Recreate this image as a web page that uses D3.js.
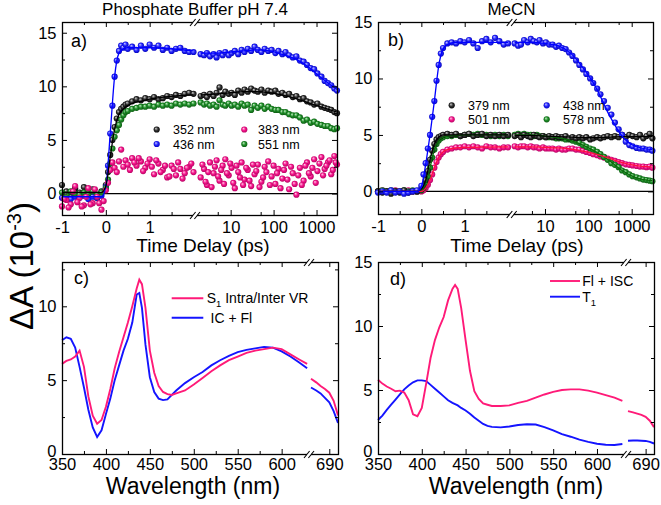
<!DOCTYPE html>
<html><head><meta charset="utf-8">
<script src="https://cdn.jsdelivr.net/npm/d3@7"></script>
<style>body{margin:0;background:#fff}</style>
</head><body><svg id="c" width="661" height="505"></svg>
<script>
// ---------------- DATA ----------------
const tL = [-1,-0.9,-0.8,-0.7,-0.6,-0.5,-0.4,-0.3,-0.2,-0.1, 0,0.05,0.1,0.15,0.2,0.25,0.3,0.35,0.4,0.45, 0.5,0.6,0.7,0.8,0.9,1.0,1.1,1.2,1.3,1.4, 1.5,1.6,1.7,1.8,1.9,2.0];
const tR = [2,2.4,2.8,3.3,4,4.7,5.5,6.5,7.5,9, 10.5,12.5,15,18,21,25,30,36,43,52, 62,75,90,110,130,160,190,230,280,340, 410,500,600,730,880,1050,1300,1550,1850,2200, 2600,3000];
const tL2 = [-0.95,-0.85,-0.75,-0.65,-0.55,-0.45,-0.35,-0.25,-0.15,-0.05, 0.55,0.65,0.75,0.85,0.95,1.05,1.15,1.25,1.35,1.45, 1.55,1.65,1.75,1.85,1.95];
const tR2 = [2.2,2.6,3.0,3.6,4.3,5.1,6.0,7.0,8.2,9.8, 11.5,13.7,16.5,19.5,23,27.5,33,39.5,47,57, 68,82,100,120,145,175,210,255,310,375, 455,550,665,800,960,1170,1420,1700,2020,2400, 2800];
const fitTL = [-1,-0.1,0,0.1,0.2,0.3,0.4,0.5,0.6,0.8,1.0,2.0];
const fitTR = [2,5,10,20,40,80,150,300,600,1200,3000];

// panel a) Phosphate buffer
const a352L = [0.8,0.2,-0.3,0.5,0.1,0.6,-0.2,0.4,-0.4,0.2, 0.8,2.0,3.6,5.0,6.2,7.0,7.6,7.9,8.1,8.3, 8.4,8.6,8.8,8.7,8.9,8.8,9.0,8.8,8.9,9.1, 9.0,9.2,9.1,9.3,9.4,9.3];
const a383L = [-1.2,-0.6,-1.0,0.7,-0.4,-1.1,0.5,-0.9,-0.3,-1.5, 0.3,1.0,2.2,2.9,2.4,2.0,3.0,4.1,2.5,3.1, 2.7,3.3,2.6,3.0,2.4,3.2,1.8,2.8,2.2,1.5, 2.6,1.7,2.3,1.9,2.5,2.0];
const a436L = [-0.4,-0.2,-0.5,-0.3,-0.4,-0.2,-0.5,-0.3,-0.4,-0.2, 0.6,2.6,5.6,8.2,10.9,12.4,13.3,13.8,13.6,13.9, 13.5,13.7,13.4,13.8,13.5,13.9,13.6,13.8,13.4,13.6, 13.3,13.5,13.6,13.3,13.2,13.2];
const a551L = [0.1,-0.1,0.2,0.0,-0.1,0.1,0.0,0.2,-0.1,0.1, 0.5,1.3,2.8,4.2,5.3,5.9,6.4,6.9,7.3,7.6, 7.7,7.9,8.0,8.1,8.1,8.2,8.1,8.3,8.2,8.3, 8.2,8.4,8.3,8.4,8.3,8.4];
const a352R = [9.1,9.2,9.0,9.3,9.1,9.4,9.9,9.2,9.5,9.3, 9.4,9.2,9.6,9.4,9.7,9.5,9.8,9.6,9.5,9.7, 9.4,9.6,9.5,9.6,9.3,9.4,9.2,9.3,9.0,9.1, 8.8,8.9,8.6,8.5,8.3,8.4,8.1,8.0,7.9,7.8, 7.6,7.5];
const a383R = [1.5,2.3,0.8,2.9,1.9,3.1,1.2,2.6,3.2,1.7, 2.4,0.5,2.0,2.9,1.3,2.2,0.7,1.8,2.7,1.1, 2.5,3.0,1.6,0.9,2.3,1.4,2.8,0.4,1.9,-0.1, 2.4,1.2,2.9,1.6,3.2,2.1,3.4,2.3,2.9,1.8, 3.5,2.7];
const a436R = [13.0,12.9,13.1,12.8,13.0,12.7,13.1,12.9,13.2,12.9, 13.1,13.3,13.0,13.4,13.2,13.5,13.3,13.7,13.4,13.2, 13.5,13.3,13.4,13.1,13.3,13.0,13.2,12.9,12.7,12.8, 12.4,12.3,12.0,11.7,11.6,11.2,10.9,10.5,10.3,10.1, 9.8,9.6];
const a551R = [8.5,8.3,8.4,8.2,8.3,8.1,8.7,8.3,8.2,8.4, 8.2,8.3,8.1,8.4,8.2,8.3,7.8,8.2,8.0,8.2, 7.9,8.1,7.9,7.8,7.8,7.6,7.6,7.4,7.3,7.3, 7.1,6.8,6.9,6.6,6.7,6.5,6.4,6.3,6.3,6.1, 6.0,6.1];
const a383L2 = [-0.5,-1.3,0.2,-0.8,-1.2,-0.3,-1.0,0.4,-0.9,-0.7, 2.2,2.9,3.3,2.1,2.8,2.5,3.1,2.0,2.6,1.6, 2.3,2.9,1.4,2.4,2.8];
const a383R2 = [2.7,1.1,2.0,0.6,2.5,1.6,2.2,0.9,1.9,2.8, 1.0,2.6,1.5,0.8,2.4,1.2,2.7,2.1,0.6,1.5, 2.0,0.8,2.6,1.9,0.5,2.2,1.3,2.5,0.9,1.7, 0.8,2.6,1.9,2.4,1.0,2.8,1.7,2.6,3.1,2.2, 2.9];
const aFit436L = [-0.3,-0.3,0.6,5.6,10.9,13.1,13.5,13.6,13.6,13.6,13.6,13.3];
const aFit436R = [13.1,13.1,13.2,13.3,13.4,13.3,13.0,12.6,11.9,10.9,9.7];
const aFit352L = [0.1,0.1,0.7,3.4,6.0,7.4,7.9,8.2,8.4,8.6,8.8,9.2];
const aFit352R = [9.2,9.3,9.4,9.5,9.5,9.4,9.2,8.9,8.5,8.1,7.6];

// panel b) MeCN
const b379L = [0.0,-0.1,0.0,-0.2,0.0,-0.1,0.1,-0.1,0.0,0.0, 0.2,0.5,1.0,1.8,2.8,3.6,4.2,4.6,4.8,4.9, 5.0,5.1,5.0,5.1,4.9,5.0,5.1,4.9,5.0,5.1, 4.9,5.0,4.9,5.0,4.9,5.0];
const b438L = [-0.1,0.0,-0.1,0.1,-0.1,0.0,-0.2,-0.1,0.0,0.1, 0.5,1.5,2.5,3.8,5.0,6.6,8.0,9.8,11.2,12.2, 12.7,13.1,13.2,13.1,13.3,13.2,13.4,13.1,12.7,13.3, 13.5,13.2,13.6,13.3,13.0,13.1];
const b501L = [0.0,0.1,0.0,0.0,0.1,0.0,0.0,0.1,0.0,0.0, 0.0,0.1,0.3,0.6,1.0,1.5,2.1,2.6,3.0,3.3, 3.5,3.7,3.8,3.9,3.9,4.0,3.9,4.0,3.9,3.8, 4.0,3.9,3.9,3.8,3.9,3.9];
const b578L = [0.0,0.1,0.0,0.1,0.0,0.0,0.1,0.0,0.1,0.0, 0.1,0.3,0.7,1.3,2.1,3.0,3.7,4.2,4.5,4.7, 4.8,4.9,4.9,5.0,4.9,5.0,5.1,5.0,5.1,5.0, 5.0,4.9,5.0,4.9,5.0,4.9];
const b379R = [4.9,5.0,4.8,5.0,4.9,4.8,5.0,4.9,4.8,4.9, 4.8,4.9,4.8,4.9,4.8,4.8,4.9,4.7,4.8,4.7, 4.8,4.7,4.8,4.6,4.7,4.8,4.7,4.8,4.9,4.8, 4.9,4.8,5.0,4.8,5.0,4.9,4.8,5.0,4.7,4.9, 5.1,4.7];
const b438R = [13.1,12.9,13.0,13.4,13.2,13.5,13.3,13.2,13.4,13.1, 13.2,13.0,13.0,12.8,12.9,12.7,12.6,12.3,12.0,11.6, 11.2,10.8,10.4,10.0,9.6,9.1,8.6,8.0,7.4,6.8, 6.1,5.5,5.0,4.4,4.1,4.0,3.85,3.8,3.8,3.7, 3.7,3.6];
const b501R = [4.0,3.9,4.0,4.0,3.9,4.0,3.9,3.9,3.8,3.9, 3.8,3.8,3.8,3.7,3.8,3.7,3.7,3.8,3.8,3.7, 3.7,3.6,3.5,3.4,3.3,3.2,3.1,3.0,2.9,2.8, 2.7,2.6,2.5,2.4,2.35,2.3,2.25,2.2,2.2,2.15, 2.2,2.1];
const b578R = [5.0,5.1,5.0,5.1,5.0,5.0,4.9,5.0,4.9,4.9, 4.8,4.8,4.8,4.7,4.7,4.7,4.6,4.6,4.5,4.4, 4.3,4.1,3.95,3.8,3.7,3.5,3.3,3.05,2.8,2.5, 2.35,2.15,1.85,1.7,1.5,1.35,1.25,1.15,1.05,1.0, 0.95,0.9];
const bFit438L = [0,0,0.4,2.4,5.0,8.0,11.1,12.6,13.0,13.2,13.2,13.2];
const bFit438R = [13.2,13.2,13.1,12.9,12.2,10.8,9.2,6.8,4.9,4.0,3.7];
const bFit379L = [0,0,0.2,1.0,2.8,4.2,4.8,5.0,5.0,5.0,5.0,5.0];
const bFit379R = [4.95,4.95,4.9,4.85,4.8,4.75,4.75,4.8,4.85,4.85,4.85];
const bFit501L = [0,0,0,0.3,1.0,2.1,3.0,3.5,3.7,3.85,3.9,3.95];
const bFit501R = [3.95,3.95,3.9,3.85,3.75,3.55,3.3,2.95,2.55,2.3,2.15];
const bFit578L = [0,0,0.1,0.7,2.1,3.7,4.5,4.8,4.9,4.95,5.0,5.0];
const bFit578R = [5.0,5.0,4.9,4.75,4.5,4.05,3.5,2.75,1.85,1.25,0.95];

// spectra (c, d)
const wl = [350,355,360,365,370,375,380,385,390,395, 400,405,410,415,420,425,430,435,438,441, 445,450,455,460,465,470,475,480,490,500, 510,520,530,540,550,560,570,580,590,600, 610,620,629];
const wlR = [669,675,680,685,690,695,700];
const cS1VR = [6.1,6.3,6.4,6.6,7.0,5.9,3.9,2.6,2.05,2.3, 3.2,4.4,5.8,6.9,7.9,8.9,10.0,11.2,11.8,11.5, 9.9,7.0,5.5,4.6,4.2,4.05,4.0,4.1,4.3,4.7, 5.15,5.6,6.0,6.35,6.6,6.85,7.0,7.1,7.2,7.1, 6.75,6.4,6.1];
const cICFl = [7.7,7.9,7.8,7.2,5.9,4.5,3.0,1.8,1.15,1.6, 2.7,3.75,5.0,6.0,7.0,7.8,8.9,10.8,10.9,9.9, 7.4,5.2,4.2,3.75,3.65,3.7,4.0,4.3,4.8,5.2, 5.55,6.0,6.35,6.65,6.9,7.05,7.15,7.25,7.2,6.95, 6.6,6.2,5.8];
const cS1VR_R = [5.1,4.85,4.6,4.4,4.15,3.6,2.6];
const cICFl_R = [4.5,4.3,4.1,3.8,3.5,2.9,2.1];
const dFlISC = [5.8,5.5,5.27,5.1,4.9,4.95,4.8,4.2,3.1,2.95, 3.6,5.5,7.5,8.9,9.9,10.7,12.0,12.9,13.2,12.9, 11.4,8.9,6.5,4.9,4.3,3.95,3.85,3.75,3.75,3.8, 4.0,4.15,4.4,4.65,4.85,5.0,5.05,5.05,4.95,4.8, 4.6,4.4,4.15];
const dT1 = [2.66,3.0,3.44,3.85,4.25,4.65,5.05,5.35,5.6,5.75, 5.75,5.7,5.4,5.1,4.8,4.5,4.2,4.0,3.9,3.8, 3.6,3.4,3.15,2.85,2.6,2.35,2.2,2.12,2.08,2.15, 2.27,2.32,2.3,2.1,1.85,1.55,1.35,1.12,0.95,0.8, 0.72,0.7,0.78];
const dFlISC_R = [3.35,3.25,3.15,3.05,2.9,2.6,2.1];
const dT1_R = [1.04,1.05,1.05,1.04,1.02,0.95,0.82];

// tick values
const tMajL = [-1,0,1], tMinL = [-0.5,0.5,1.5];
const tMajR = [10,100,1000], tMinR = [5,50,500];
const wMaj = [350,400,450,500,550,600], wMin = [375,425,475,525,575];
const wMajR = [690];

// ---------------- DRAW ----------------
const FONT = '"Liberation Sans", Arial, Helvetica, sans-serif';
const svg = d3.select("#c").style("font-family", FONT);
const defs = svg.append("defs");
const ballCols = {
  black: ["#d0d0d0", "#333333", "#000000"],
  blue: ["#c8c8ff", "#2626ff", "#0000b4"],
  pink: ["#ffd0e8", "#f4158b", "#b0005e"],
  green: ["#c8ecc8", "#20902a", "#0a560f"]
};
Object.entries(ballCols).forEach(([k, c]) => {
  const g = defs.append("radialGradient").attr("id", "g-" + k)
    .attr("cx", "50%").attr("cy", "50%").attr("r", "55%").attr("fx", "35%").attr("fy", "32%");
  g.append("stop").attr("offset", "0%").attr("stop-color", c[0]);
  g.append("stop").attr("offset", "50%").attr("stop-color", c[1]);
  g.append("stop").attr("offset", "100%").attr("stop-color", c[2]);
});
const fmt = d => d < 0 ? "-" + Math.abs(d) : String(d);

function addAxis(orient, scale, pos, values, size, withLabels, pad, fs) {
  const gen = {bottom: d3.axisBottom, top: d3.axisTop, left: d3.axisLeft, right: d3.axisRight}[orient](scale)
    .tickValues(values).tickSizeInner(-size).tickSizeOuter(0).tickPadding(pad || 4)
    .tickFormat(withLabels ? fmt : () => "");
  const tr = (orient === "bottom" || orient === "top") ? `translate(0,${pos})` : `translate(${pos},0)`;
  const g = svg.append("g").attr("transform", tr).call(gen);
  g.select(".domain").remove();
  g.selectAll("line").attr("stroke", "#000").attr("stroke-width", 1);
  g.selectAll("text").attr("fill", "#000").style("font-size", (fs || 16.5) + "px").style("font-family", FONT);
  return g;
}
function frame(p) {
  svg.append("rect").attr("x", p.L + 0.5).attr("y", p.T + 0.5).attr("width", p.R - p.L).attr("height", p.B - p.T)
    .attr("fill", "none").attr("stroke", "#000").attr("stroke-width", 1.3);
}
function breakMark(x, yy) {
  svg.append("rect").attr("x", x - 2).attr("y", yy - 2).attr("width", 4).attr("height", 4).attr("fill", "#fff");
  [-2.2, 2.2].forEach(o => svg.append("line").attr("x1", x + o - 2.8).attr("y1", yy + 3.5)
    .attr("x2", x + o + 2.8).attr("y2", yy - 3.5).attr("stroke", "#000").attr("stroke-width", 1.1));
}
function yAxes(p, y, maj, min, zeroShift) {
  const g = addAxis("left", y, p.L, maj, 5, true, 5.5);
  if (zeroShift) g.selectAll(".tick").filter(d => d === 0).select("text").attr("y", -zeroShift);
  addAxis("left", y, p.L, min, 3, false);
  addAxis("right", y, p.R, maj, 5, false);
  addAxis("right", y, p.R, min, 3, false);
}

function timePanel(p) {
  const xl = d3.scaleLinear().domain(p.xlDom).range([p.L, p.brk - 1.5]);
  const xr = d3.scaleLog().domain(p.xrDom).range([p.brk + 1.5, p.R]);
  const y = d3.scaleLinear().domain(p.yDom).range([p.B, p.T]);
  svg.append("line").attr("x1", p.L).attr("x2", p.R).attr("y1", y(0)).attr("y2", y(0))
    .attr("stroke", "#000").attr("stroke-width", 1.3);
  const g = svg.append("g");
  p.series.forEach(s => {
    let pts = tL.map((t, i) => [xl(t), y(s.left[i])]).concat(tR.map((t, i) => [xr(t), y(s.right[i])]));
    if (s.left2) pts = pts.concat(tL2.map((t, i) => [xl(t), y(s.left2[i])]));
    if (s.right2) pts = pts.concat(tR2.map((t, i) => [xr(t), y(s.right2[i])]));
    g.append("g").selectAll("circle").data(pts).join("circle")
      .attr("cx", d => d[0]).attr("cy", d => d[1]).attr("r", 3.1).attr("fill", `url(#g-${s.c})`);
  });
  p.fits.forEach(f => {
    const lineL = d3.line().x(d => xl(d[0])).y(d => y(d[1])).curve(d3.curveMonotoneX);
    const lineR = d3.line().x(d => xr(d[0])).y(d => y(d[1])).curve(d3.curveMonotoneX);
    g.append("path").attr("d", lineL(fitTL.map((t, i) => [t, f.left[i]]))).attr("fill", "none").attr("stroke", f.col).attr("stroke-width", 1.3);
    g.append("path").attr("d", lineR(fitTR.map((t, i) => [t, f.right[i]]))).attr("fill", "none").attr("stroke", f.col).attr("stroke-width", 1.3);
  });
  frame(p);
  [[xl, tMajL, tMinL], [xr, tMajR, tMinR]].forEach(([sc, ma, mi]) => {
    addAxis("bottom", sc, p.B, ma, 5, true, 6);
    addAxis("bottom", sc, p.B, mi, 3, false);
    addAxis("top", sc, p.T, ma, 5, false);
    addAxis("top", sc, p.T, mi, 3, false);
  });
  yAxes(p, y, p.yMaj, p.yMin, 0);
  breakMark(p.brk, p.T + 0.5); breakMark(p.brk, p.B + 0.5);
  p.legend.forEach(it => {
    svg.append("circle").attr("cx", it.x).attr("cy", it.y).attr("r", 3.1).attr("fill", `url(#g-${it.c})`);
    svg.append("text").attr("x", it.tx).attr("y", it.y + 4.5).style("font-size", "12.5px").attr("fill", "#000").text(it.label);
  });
  svg.append("text").attr("x", p.lab[0]).attr("y", p.lab[1]).style("font-size", "18px").text(p.lab[2]);
  svg.append("text").attr("x", p.title[0]).attr("y", 15).attr("text-anchor", "middle").style("font-size", "17px").text(p.title[1]);
  svg.append("text").attr("x", p.xt).attr("y", 252).attr("text-anchor", "middle").style("font-size", "19px").text("Time Delay (ps)");
}

function specPanel(p) {
  const xl = d3.scaleLinear().domain(p.xlDom).range([p.L, p.brk - 1]);
  const xr = d3.scaleLinear().domain([669, 700]).range([p.brk + 2, p.R]);
  const y = d3.scaleLinear().domain(p.yDom).range([p.B, p.T]);
  p.series.forEach(s => {
    const lineL = d3.line().x(d => xl(d[0])).y(d => y(d[1]));
    const lineR = d3.line().x(d => xr(d[0])).y(d => y(d[1]));
    svg.append("path").attr("d", lineL(wl.map((w, i) => [w, s.left[i]]))).attr("fill", "none").attr("stroke", s.col).attr("stroke-width", 1.9);
    svg.append("path").attr("d", lineR(wlR.map((w, i) => [w, s.right[i]]))).attr("fill", "none").attr("stroke", s.col).attr("stroke-width", 1.9);
  });
  frame(p);
  [[xl, wMaj, wMin], [xr, wMajR, []]].forEach(([sc, ma, mi]) => {
    addAxis("bottom", sc, p.B, ma, 5, true, 4.5);
    addAxis("bottom", sc, p.B, mi, 3, false);
    addAxis("top", sc, p.T, ma, 5, false);
    addAxis("top", sc, p.T, mi, 3, false);
  });
  yAxes(p, y, p.yMaj, p.yMin, 3);
  breakMark(p.brk, p.T + 0.5); breakMark(p.brk, p.B + 0.5);
  p.legend.forEach(it => {
    svg.append("line").attr("x1", it.x1).attr("x2", it.x2).attr("y1", it.y).attr("y2", it.y).attr("stroke", it.col).attr("stroke-width", 1.9);
    const t = svg.append("text").attr("x", it.tx).attr("y", it.y + 5).style("font-size", "14px").attr("fill", "#000");
    t.append("tspan").text(it.label[0]);
    if (it.label[1]) {
      t.append("tspan").attr("dy", 4).style("font-size", "9.5px").text(it.label[1]);
      t.append("tspan").attr("dy", -4).text(it.label[2] || "");
    }
  });
  svg.append("text").attr("x", p.lab[0]).attr("y", p.lab[1]).style("font-size", "18px").text(p.lab[2]);
  svg.append("text").attr("x", p.xt).attr("y", 494).attr("text-anchor", "middle").style("font-size", "23px").text("Wavelength (nm)");
}

timePanel({
  L: 62, R: 337, T: 22, B: 215, brk: 195, xlDom: [-1, 2], xrDom: [1.6, 3000], yDom: [-2, 16],
  yMaj: [0, 5, 10, 15], yMin: [2.5, 7.5, 12.5],
  series: [{c: "black", left: a352L, right: a352R}, {c: "blue", left: a436L, right: a436R},
           {c: "green", left: a551L, right: a551R}, {c: "pink", left: a383L, right: a383R, left2: a383L2, right2: a383R2}],
  fits: [{col: "#0000ff", left: aFit436L, right: aFit436R}, {col: "#000", left: aFit352L, right: aFit352R}],
  legend: [{x: 156.7, y: 129.5, tx: 173, c: "black", label: "352 nm"}, {x: 244.3, y: 129.5, tx: 258, c: "pink", label: "383 nm"},
           {x: 156.7, y: 144, tx: 173, c: "blue", label: "436 nm"}, {x: 244.3, y: 144, tx: 258, c: "green", label: "551 nm"}],
  lab: [71, 47, "a)"], title: [195, "Phosphate Buffer pH 7.4"], xt: 203
});
timePanel({
  L: 378, R: 653, T: 22, B: 214, brk: 511.7, xlDom: [-1, 2.05], xrDom: [1.85, 3100], yDom: [-2, 15],
  yMaj: [0, 5, 10, 15], yMin: [2.5, 7.5, 12.5],
  series: [{c: "pink", left: b501L, right: b501R}, {c: "green", left: b578L, right: b578R},
           {c: "black", left: b379L, right: b379R}, {c: "blue", left: b438L, right: b438R}],
  fits: [{col: "#0a6a0a", left: bFit578L, right: bFit578R}, {col: "#ff1040", left: bFit501L, right: bFit501R},
         {col: "#000", left: bFit379L, right: bFit379R}, {col: "#0000ff", left: bFit438L, right: bFit438R}],
  legend: [{x: 451.7, y: 105.3, tx: 468, c: "black", label: "379 nm"}, {x: 546.7, y: 105.3, tx: 563, c: "blue", label: "438 nm"},
           {x: 451.7, y: 119.3, tx: 468, c: "pink", label: "501 nm"}, {x: 546.7, y: 119.3, tx: 563, c: "green", label: "578 nm"}],
  lab: [388, 46, "b)"], title: [511.5, "MeCN"], xt: 517
});
specPanel({
  L: 62, R: 338, T: 262, B: 454, brk: 309, xlDom: [350, 630], yDom: [0, 13],
  yMaj: [0, 5, 10], yMin: [2.5, 7.5, 12.5],
  series: [{col: "#1414ff", left: cICFl, right: cICFl_R}, {col: "#ff1a78", left: cS1VR, right: cS1VR_R}],
  legend: [{x1: 171.7, x2: 203.3, y: 298.3, tx: 206.7, col: "#ff1a78", label: ["S", "1", " Intra/Inter VR"]},
           {x1: 171.7, x2: 203.3, y: 317.7, tx: 210.5, col: "#1414ff", label: ["IC + Fl"]}],
  lab: [74, 284, "c)"], xt: 193
});
specPanel({
  L: 378, R: 654, T: 262, B: 454, brk: 626, xlDom: [350, 632], yDom: [0, 15],
  yMaj: [0, 5, 10, 15], yMin: [2.5, 7.5, 12.5],
  series: [{col: "#1414ff", left: dT1, right: dT1_R}, {col: "#ff1a78", left: dFlISC, right: dFlISC_R}],
  legend: [{x1: 550, x2: 580, y: 281, tx: 582.3, col: "#ff1a78", label: ["Fl + ISC"]},
           {x1: 550, x2: 580, y: 296.7, tx: 582.3, col: "#1414ff", label: ["T", "1", ""]}],
  lab: [390, 285, "d)"], xt: 516
});

// y-axis title
const yt = svg.append("text").attr("transform", "translate(33,266) rotate(-90)").attr("text-anchor", "middle")
  .style("font-size", "33px").attr("fill", "#000");
yt.append("tspan").text("\u0394A (10");
yt.append("tspan").attr("dy", -12).style("font-size", "20px").text("-3");
yt.append("tspan").attr("dy", 12).text(")");
</script></body></html>
